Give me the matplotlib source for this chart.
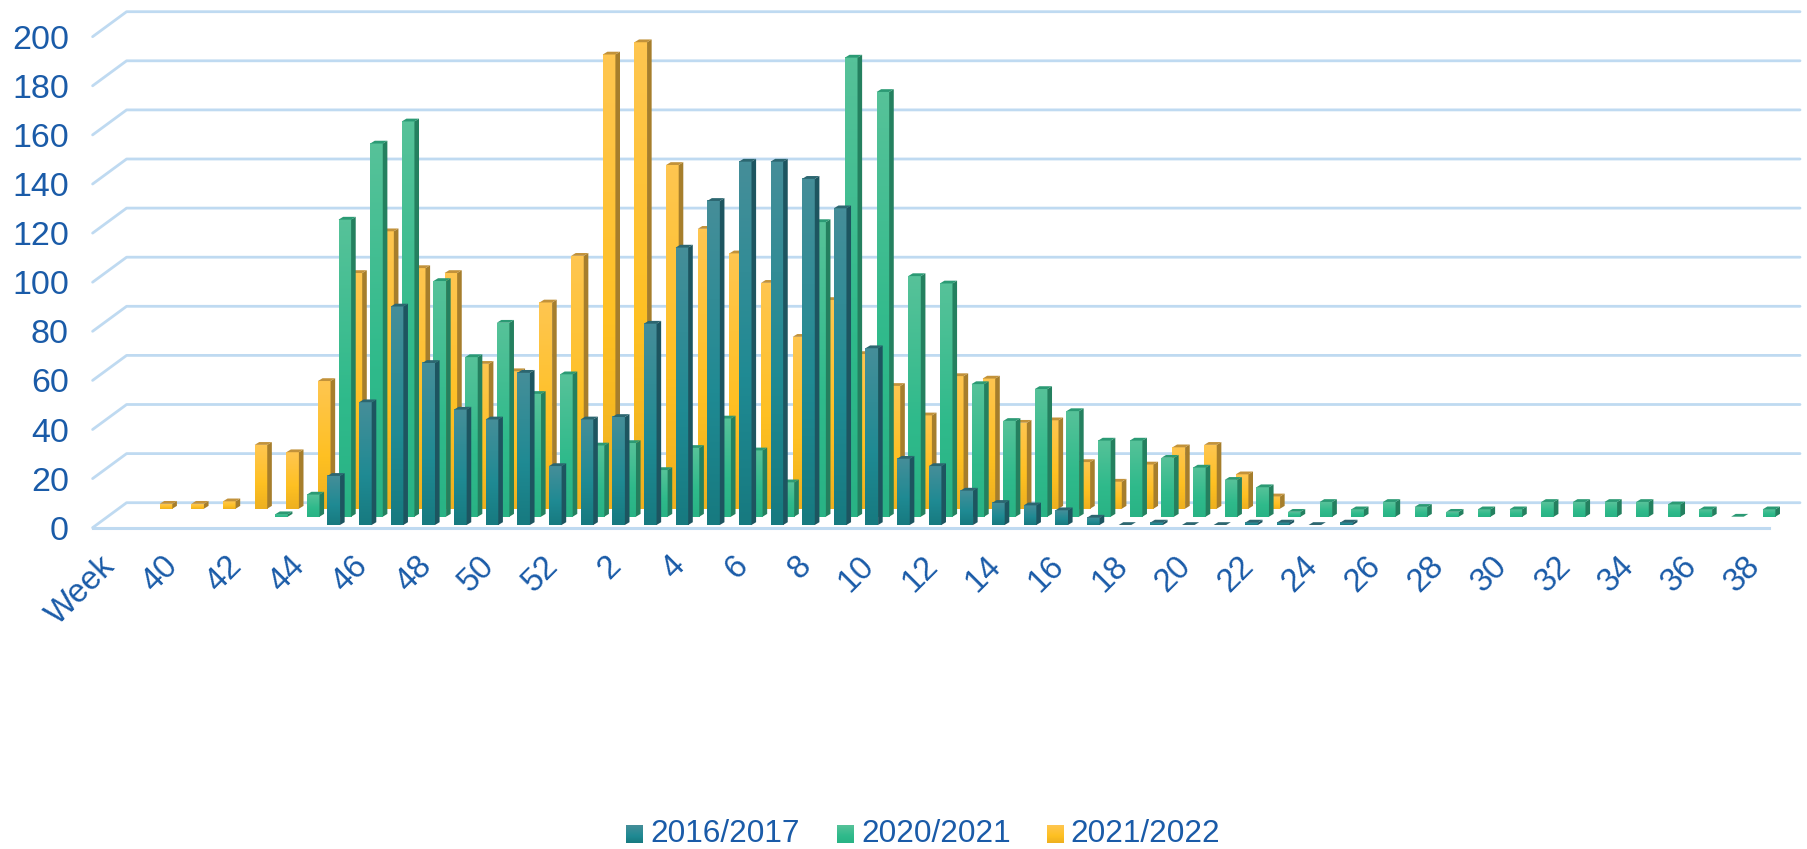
import numpy as np
import matplotlib
matplotlib.use("Agg")
import matplotlib.pyplot as plt
from matplotlib.patches import Polygon
from matplotlib.colors import to_rgb

plt.rcParams['font.family'] = ['Liberation Sans', 'DejaVu Sans']
plt.rcParams['image.composite_image'] = False

# x axis, one slot per week ("Week" is the title slot, it has no bars)
weeks = ["Week"] + [str(w) for w in range(39, 53)] + [str(w) for w in range(1, 39)]
y_ticks = list(range(0, 201, 20))

# values start at week 39, None = no bar
s2016 = [None] * 6 + [20, 50, 89, 66, 47, 43, 62, 24, 43, 44, 82, 113, 132, 148, 148, 141,
                      129, 72, 27, 24, 14, 9, 8, 6, 3, 0, 1, 0, 0, 1, 1, 0, 1] + [None] * 13
s2020 = [None] * 4 + [1, 9, 121, 152, 161, 96, 65, 79, 50, 58, 29, 30, 19, 28, 40, 27, 14,
                      120, 187, 173, 98, 95, 54, 39, 52, 43, 31, 31, 24, 20, 15, 12, 2, 6,
                      3, 6, 4, 2, 3, 3, 6, 6, 6, 6, 5, 3, 0, 3]
s2021 = [2, 2, 3, 26, 23, 52, 96, 113, 98, 96, 59, 56, 84, 103, 185, 190, 140, 114, 104, 92,
         70, 85, 63, 50, 38, 54, 53, 35, 36, 19, 11, 18, 25, 26, 14, 5] + [None] * 16
names = ["2016/2017", "2020/2021", "2021/2022"]

text_col = "#1A5BA8"
grid_col = "#BFDAF1"

# pixel sizes of the picture
W, H = 1808, 849
px_x = 31.65   # px per week
px_y = 2.455   # px per count
left_px = 92.6
zero_px = 502.7


def to_x(px):
    return (px - left_px) / px_x


def to_y(px):
    return (zero_px - px) / px_y


fig = plt.figure(figsize=(W / 100, H / 100), dpi=100)
ax = fig.add_axes([0, 0, 1, 1])
ax.axis("off")

# perspective offsets, in data units
depth_x = 34 / px_x
depth_y = 25 / px_y
bar_w = 12.6 / px_x
side_x = 4.6 / px_x
side_y = 2.8 / px_y


def gradient(top, mid, bottom):
    pos = np.linspace(0, 1, 48)
    stops = [to_rgb(top), to_rgb(mid), to_rgb(bottom)]
    return np.stack([np.interp(pos, [0, 0.6, 1], [c[k] for c in stops]) for k in range(3)], axis=1)[:, None, :]


styles = [
    dict(vals=s2021, off=1.12, base=-2.44, z=3, grad=gradient("#FFC650", "#FEC022", "#EEB01F"),
         side="#A67E2C", top="#C2923A"),
    dict(vals=s2020, off=0.77, base=-5.7, z=4, grad=gradient("#56C299", "#2FBA8B", "#29B385"),
         side="#24805F", top="#2B9A74"),
    dict(vals=s2016, off=0.42, base=-9.08, z=5, grad=gradient("#458E99", "#1F8A93", "#177A80"),
         side="#1D5560", top="#2C6670"),
]

# back wall grid and left side
for t in y_ticks:
    ax.plot([-0.0, depth_x, to_x(1800)], [t - depth_y, t, t], color=grid_col, lw=2.0, zorder=1,
            solid_capstyle="round", solid_joinstyle="round")
    ax.text(to_x(69), t - depth_y, str(t), color=text_col, fontsize=24.5, ha="right", va="center_baseline")

# front edge of floor
ax.plot([0, to_x(1769)], [-depth_y, -depth_y], color=grid_col, lw=2.2, zorder=2)

# bars, back row first
for st in styles:
    for i, v in enumerate(st["vals"]):
        if v is None:
            continue
        x0 = i + 1 + st["off"]
        x1 = x0 + bar_w
        y0 = st["base"]
        y1 = y0 + v
        if v > 0:
            ax.imshow(st["grad"], extent=[x0, x1, y0, y1], aspect="auto", origin="upper",
                      interpolation="bilinear", zorder=st["z"])
            ax.add_patch(Polygon([(x1, y0), (x1 + side_x, y0 + side_y), (x1 + side_x, y1 + side_y), (x1, y1)],
                                 closed=True, fc=st["side"], ec="none", zorder=st["z"] + 0.1))
        ax.add_patch(Polygon([(x0, y1), (x1, y1), (x1 + side_x, y1 + side_y), (x0 + side_x, y1 + side_y)],
                             closed=True, fc=st["top"], ec="none", zorder=st["z"] + 0.2))

# every second slot gets a label
for i in range(0, len(weeks), 2):
    ax.text(i + 0.5 + 0.05, to_y(561), weeks[i], color=text_col, fontsize=23.5, rotation=45,
            rotation_mode="anchor", ha="right", va="center")

# legend
leg_swatch = [626, 837, 1047]
leg_text = [650, 861, 1070]
leg_grad = [styles[2]["grad"], styles[1]["grad"], styles[0]["grad"]]
for name, sx, tx, g in zip(names, leg_swatch, leg_text, leg_grad):
    ax.imshow(g, extent=[to_x(sx), to_x(sx + 17), to_y(843), to_y(826)], aspect="auto", origin="upper",
              interpolation="bilinear", zorder=6)
    ax.text(to_x(tx), to_y(842), name, color=text_col, fontsize=22.7, ha="left", va="baseline")

ax.set_xlim(to_x(0), to_x(W))
ax.set_ylim(to_y(H), to_y(0))

fig.savefig("out.png", dpi=100, facecolor="white")
